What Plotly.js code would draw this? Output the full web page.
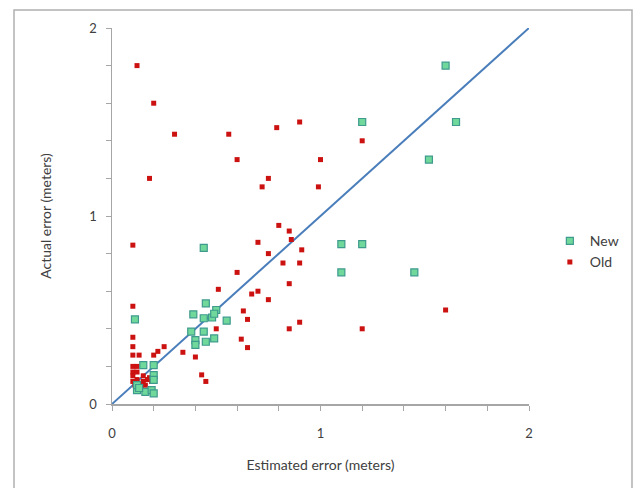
<!DOCTYPE html>
<html>
<head>
<meta charset="utf-8">
<script src="https://cdn.plot.ly/plotly-3.0.1.min.js"></script>
<style>html,body{margin:0;padding:0;background:#fff;}</style>
</head>
<body>
<div id="chart" style="width:637px;height:488px;"></div>
<script>
// New series (estimated error, actual error)
const newX = [1.60, 1.20, 1.65, 1.52, 1.10, 1.20, 1.10, 1.45, 0.44, 0.11,
              0.45, 0.39, 0.44, 0.48, 0.50, 0.49, 0.55, 0.38, 0.44, 0.40, 0.40, 0.45, 0.49,
              0.15, 0.20, 0.20, 0.20, 0.12, 0.16, 0.19, 0.20, 0.12, 0.13];
const newY = [1.80, 1.50, 1.50, 1.30, 0.85, 0.85, 0.70, 0.70, 0.83, 0.45,
              0.535, 0.477, 0.456, 0.46, 0.50, 0.48, 0.443, 0.385, 0.385, 0.34, 0.314, 0.331, 0.349,
              0.207, 0.207, 0.154, 0.128, 0.074, 0.065, 0.074, 0.057, 0.10, 0.085];
// Old series
const oldX = [0.12, 0.20, 0.30, 0.56, 0.79, 0.90, 0.60, 1.00, 1.20, 0.18,
              0.75, 0.72, 0.99, 0.10, 0.80, 0.85, 0.86, 0.70, 0.91, 0.75,
              0.82, 0.90, 0.60, 0.85, 0.51, 0.70, 0.67, 0.75, 0.10, 1.60,
              0.63, 0.65, 0.90, 0.85, 1.20, 0.50, 0.10, 0.62, 0.65, 0.10,
              0.25, 0.34, 0.40, 0.22, 0.20, 0.10, 0.13, 0.43, 0.45,
              0.10, 0.12, 0.10, 0.10, 0.10, 0.12, 0.12, 0.13, 0.15, 0.15,
              0.16, 0.17, 0.18, 0.19, 0.20, 0.14, 0.11];
const oldY = [1.80, 1.60, 1.435, 1.435, 1.47, 1.50, 1.30, 1.30, 1.40, 1.20,
              1.20, 1.155, 1.155, 0.845, 0.95, 0.92, 0.875, 0.86, 0.82, 0.80,
              0.75, 0.75, 0.70, 0.64, 0.61, 0.60, 0.585, 0.555, 0.52, 0.50,
              0.495, 0.45, 0.435, 0.40, 0.40, 0.40, 0.355, 0.345, 0.30, 0.305,
              0.305, 0.275, 0.25, 0.28, 0.26, 0.26, 0.26, 0.155, 0.12,
              0.20, 0.20, 0.17, 0.15, 0.12, 0.17, 0.13, 0.11, 0.15, 0.12,
              0.10, 0.13, 0.14, 0.12, 0.15, 0.09, 0.10];
// Reference line y = x
const lineX = [0, 2];
const lineY = [0, 2];
const tickVals = [0, 1, 2];
const tickText = ['0', '1', '2'];

const font = {family: 'Lato, "Open Sans", sans-serif', size: 14, color: '#404040'};
const tickFont = {family: 'Lato, "Open Sans", sans-serif', size: 13, color: '#404040'};

const traces = [
  {x: lineX, y: lineY, mode: 'lines', type: 'scatter', showlegend: false,
   line: {color: '#4a7ebb', width: 2}, hoverinfo: 'skip'},
  {x: oldX, y: oldY, mode: 'markers', type: 'scatter', name: 'Old', legendrank: 2,
   marker: {symbol: 'square', size: 5, color: '#cc1111', line: {width: 0}}},
  {x: newX, y: newY, mode: 'markers', type: 'scatter', name: 'New', legendrank: 1,
   marker: {symbol: 'square', size: 7, color: '#6fd89a', line: {width: 1.2, color: '#3f9a8e'}}}
];

const axisCommon = {
  range: [0, 2], tickvals: tickVals, ticktext: tickText,
  showgrid: false, zeroline: false, showline: true, linecolor: '#a6a6a6', linewidth: 1.5,
  ticks: 'outside', ticklen: 5, tickcolor: '#a6a6a6', tickwidth: 1,
  minor: {tickvals: [0.2, 0.4, 0.6, 0.8, 1.2, 1.4, 1.6, 1.8], ticks: 'outside', ticklen: 5, tickcolor: '#a6a6a6', showgrid: false},
  tickfont: tickFont, fixedrange: true
};

const layout = {
  width: 637, height: 488,
  margin: {l: 112, r: 108, t: 28, b: 84, autoexpand: false},
  paper_bgcolor: '#ffffff', plot_bgcolor: '#ffffff',
  font: font,
  xaxis: Object.assign({}, axisCommon, {
    ticklabelstandoff: 12,
    title: {text: 'Estimated error (meters)', font: font, standoff: 20}
  }),
  yaxis: Object.assign({}, axisCommon, {
    ticklabelstandoff: 6,
    title: {text: 'Actual error (meters)', font: font, standoff: 34}
  }),
  legend: {x: 1.05, y: 0.405, xanchor: 'left', yanchor: 'middle', traceorder: 'normal',
           font: font, bgcolor: 'rgba(0,0,0,0)', itemwidth: 30},
  shapes: [{type: 'rect', xref: 'paper', yref: 'paper', x0: -0.235, x1: 1.247, y0: -0.3, y1: 1.048,
            line: {color: '#b0b0b0', width: 1.5}, fillcolor: 'rgba(0,0,0,0)', layer: 'below'}],
  showlegend: true
};

Plotly.newPlot('chart', traces, layout, {displayModeBar: false, staticPlot: true});
</script>
</body>
</html>
